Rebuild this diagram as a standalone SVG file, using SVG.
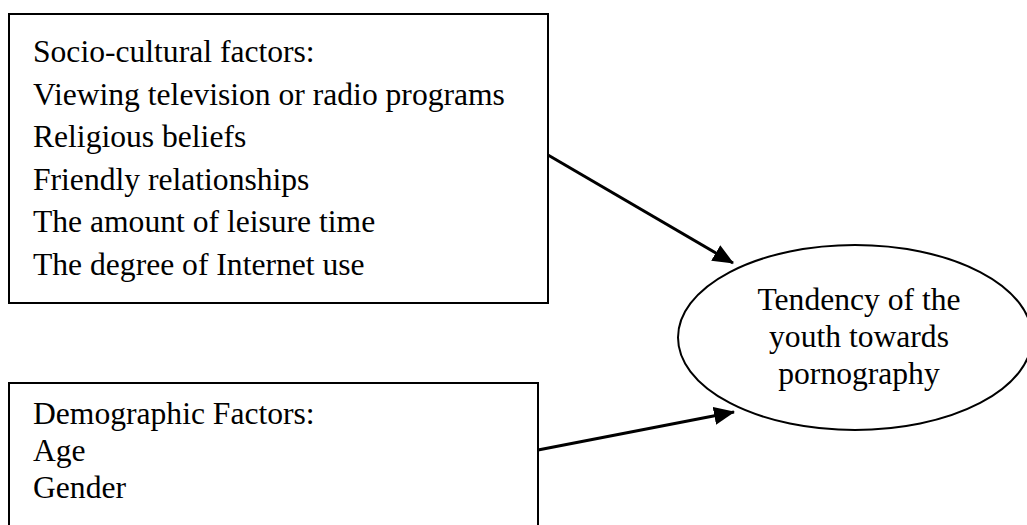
<svg xmlns="http://www.w3.org/2000/svg" width="1027" height="525" viewBox="0 0 1027 525">
  <style>
    .box { fill: #ffffff; stroke: #000000; stroke-width: 2; }
    .txt { font-family: "Liberation Serif", "Times New Roman", serif; font-size: 31.6px; fill: #000000; }
    .conn { stroke: #000000; stroke-width: 3; fill: none; }
  </style>
  <defs>
    <marker id="arrow" markerUnits="userSpaceOnUse" viewBox="0 0 21 18" markerWidth="21" markerHeight="18" refX="20" refY="9" orient="auto">
      <path d="M0,0 L21,9 L0,18 Z" fill="#000000"/>
    </marker>
  </defs>
  <rect width="1027" height="525" fill="#ffffff"/>
  <g id="socio-cultural">
    <rect class="box" x="9" y="14" width="539" height="289"/>
    <text class="txt" x="33" y="62">Socio-cultural factors:</text>
    <text class="txt" x="33" y="104.5">Viewing television or radio programs</text>
    <text class="txt" x="33" y="147">Religious beliefs</text>
    <text class="txt" x="33" y="189.5">Friendly relationships</text>
    <text class="txt" x="33" y="232">The amount of leisure time</text>
    <text class="txt" x="33" y="274.5">The degree of Internet use</text>
  </g>
  <g id="demographic">
    <rect class="box" x="9" y="383" width="529" height="160"/>
    <text class="txt" x="33" y="424">Demographic Factors:</text>
    <text class="txt" x="33" y="461">Age</text>
    <text class="txt" x="33" y="498">Gender</text>
  </g>
  <g id="tendency">
    <ellipse class="box" cx="855" cy="337.5" rx="177" ry="92.5"/>
    <text class="txt" x="859" y="310" text-anchor="middle">Tendency of the</text>
    <text class="txt" x="859" y="347" text-anchor="middle">youth towards</text>
    <text class="txt" x="859" y="384" text-anchor="middle">pornography</text>
  </g>
  <g id="connectors">
    <line class="conn" x1="548" y1="155" x2="733" y2="263" marker-end="url(#arrow)"/>
    <line class="conn" x1="538" y1="450" x2="734" y2="412" marker-end="url(#arrow)"/>
  </g>
</svg>
